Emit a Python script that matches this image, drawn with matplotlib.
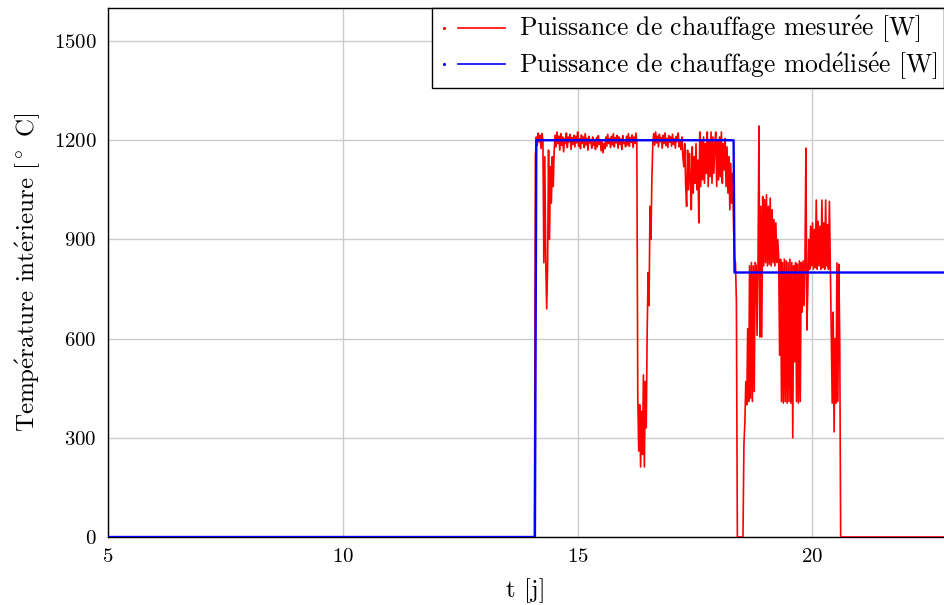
import numpy as np
import matplotlib
matplotlib.use('Agg')
import matplotlib.pyplot as plt
from matplotlib.lines import Line2D
from matplotlib.legend_handler import HandlerBase

# modelled heating power (step profile)
t_model = [5.0, 14.09, 14.12, 18.32, 18.34, 22.8]
p_model = [0, 0, 1200, 1200, 800, 800]

# measured heating power, sampled every 0.02 j from t = 14.08
t_start = 14.08
dt = 0.02
p_meas = [
    0, 1150, 1210, 1185, 1222, 1195, 1215, 1175, 1220,
    1200, 830, 1150, 840, 690, 820, 1170, 900, 1120, 1010, 1150, 1060, 1170,
    1215, 1180, 1225, 1190, 1212, 1170, 1220, 1185, 1210, 1165, 1205,
    1190, 1222, 1178, 1210, 1195, 1218, 1172, 1208, 1188, 1215, 1180,
    1212, 1192, 1225, 1182, 1205, 1175, 1216, 1190, 1210, 1178, 1220,
    1186, 1206, 1170, 1212, 1192, 1202, 1176, 1210, 1185, 1198, 1172,
    1208, 1180, 1214, 1188, 1200, 1168, 1196, 1162, 1190, 1175, 1210,
    1182, 1218, 1190, 1205, 1178, 1212, 1186, 1220, 1180, 1208, 1192,
    1215, 1176, 1210, 1188, 1204, 1172, 1214, 1190, 1200, 1180, 1212,
    1186, 1220, 1182, 1208, 1194, 1216, 1178, 1210, 1190, 1222, 1195,
    420, 260, 400, 212, 380, 250, 490, 212, 470, 330, 620, 800, 700, 1000, 900, 1080, 1190,
    1220, 1185, 1225, 1192, 1212, 1180, 1218, 1196, 1208, 1176, 1215, 1190, 1222, 1184, 1206, 1178,
    1214, 1194, 1210, 1182, 1218, 1188, 1204, 1176, 1212, 1196, 1222, 1180, 1200, 1172, 1210, 1150,
    1120, 1190, 1060, 1000, 1170, 1050, 1160, 1080, 990, 1180,
    1040, 1150, 1070, 1190, 1050, 1140, 950, 1225, 1060, 1200,
    1080, 1210, 1070, 1190, 1100, 1225, 1060, 1200, 1090, 1225,
    1070, 1210, 1100, 1190, 1225, 1060, 1200, 1080, 1210, 1090,
    1225, 1070, 1190, 1110, 1205, 1060, 1180, 1040, 1150, 990, 1130, 1010,
    1100, 940, 840, 830, 710, 0, 0, 0, 0, 0, 0, 0,
    280, 345, 470, 400, 630, 410, 820, 420, 830, 410, 820, 440, 830,
    820, 610, 830, 1243, 605, 1000, 605, 1030, 820, 1020, 830, 1035, 820,
    1000, 825, 1025, 820, 990, 830, 960, 820, 950, 830, 900, 845,
    550, 840, 410, 830, 405, 840, 410, 835, 405, 830, 410, 840, 405, 830, 300,
    820, 530, 830, 410, 825, 405, 835, 410, 830, 680, 835, 700, 840, 1176, 626,
    750, 900, 810, 940, 820, 950, 810, 930, 815, 1019, 810, 955, 820,
    940, 810, 1019, 815, 950, 810, 1019, 820, 945, 810, 1015, 820,
    600, 405, 680, 318, 600, 405, 829, 410, 825, 600, 0,
]
t_end = 22.8

x_ticks = [5, 10, 15, 20]
y_ticks = [0, 300, 600, 900, 1200, 1500]

# cmr10 has no accented glyphs, so the accent is put on with mathtext
E_ACUTE = r"$\acute{\mathrm{e}}$"
label_meas = "Puissance de chauffage mesur" + E_ACUTE + "e [W]"
label_model = "Puissance de chauffage mod" + E_ACUTE + "lis" + E_ACUTE + "e [W]"
y_label = "Temp" + E_ACUTE + "rature int" + E_ACUTE + "rieure [$^\\circ$ C]"
x_label = "t [j]"


class DotLineHandler(HandlerBase):
    # small dot followed by a line, like the original legend
    def create_artists(self, legend, orig_handle, xdescent, ydescent,
                       width, height, fontsize, trans):
        c = orig_handle.get_color()
        y = height / 2 - ydescent
        x0 = -xdescent
        dot = Line2D([x0 + 0.09 * width], [y], marker='.', ms=2.5,
                     ls='none', color=c, transform=trans)
        line = Line2D([x0 + 0.29 * width, x0 + width], [y, y],
                      color=c, lw=1.2, transform=trans)
        return [dot, line]


def main():
    plt.rcParams['font.family'] = ['cmr10', 'DejaVu Serif']
    plt.rcParams['mathtext.fontset'] = 'cm'
    plt.rcParams['axes.formatter.use_mathtext'] = True
    plt.rcParams['axes.unicode_minus'] = False

    n = len(p_meas)
    t_meas = np.concatenate([[5.0], t_start + dt * np.arange(n), [t_end]])
    p_all = np.concatenate([[0], p_meas, [0]])

    fig = plt.figure(figsize=(9.44, 6.05), dpi=100)
    ax = fig.add_axes([108 / 944, 1 - 537 / 605, 1 - 108 / 944, (537 - 8) / 605])

    ax.plot(t_meas, p_all, color='red', lw=1.2, zorder=3)
    ax.plot(t_model, p_model, color='blue', lw=1.7, zorder=4)

    ax.set_xlim(5, t_end)
    ax.set_ylim(0, 1600)
    ax.set_xticks(x_ticks)
    ax.set_yticks(y_ticks)
    ax.tick_params(length=0, labelsize=15, pad=8)
    ax.grid(True, color='#cccccc', lw=1.0)
    ax.set_axisbelow(True)
    ax.spines['right'].set_visible(False)
    for s in ['left', 'top', 'bottom']:
        ax.spines[s].set_linewidth(1.0)

    ax.set_xlabel(x_label, fontsize=18, labelpad=9)
    ax.set_ylabel(y_label, fontsize=18, labelpad=9)

    h1 = Line2D([], [], color='red')
    h2 = Line2D([], [], color='blue')
    leg = ax.legend([h1, h2], [label_meas, label_model], loc='upper right',
                    handler_map={Line2D: DotLineHandler()},
                    fontsize=18.4, frameon=True, fancybox=False, framealpha=1,
                    edgecolor='black', borderaxespad=0, handlelength=2.6,
                    labelspacing=0.22, borderpad=0.25, handletextpad=0.55)
    leg.get_frame().set_linewidth(1.0)

    fig.savefig('out.png', dpi=100)


if __name__ == "__main__":
    main()
